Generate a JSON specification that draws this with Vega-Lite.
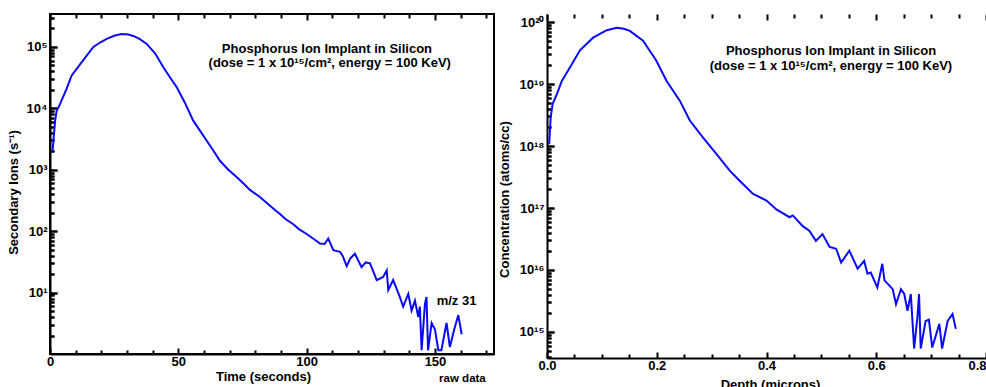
{
  "$schema": "https://vega.github.io/schema/vega-lite/v6.json",
  "autosize": {"type": "pad"},
  "padding": {"left": 6, "top": 10, "right": 0, "bottom": 0},
  "bounds": "flush",
  "spacing": 53,
  "datasets": {
    "time": [
      {"time": 1.0, "ions": 2000}, {"time": 2.0, "ions": 6300}, {"time": 2.6, "ions": 9100}, {"time": 3.9, "ions": 11700},
      {"time": 6.5, "ions": 21000}, {"time": 8.4, "ions": 34000}, {"time": 11.7, "ions": 52000}, {"time": 14.3, "ions": 72000},
      {"time": 16.9, "ions": 100000}, {"time": 19.5, "ions": 118000}, {"time": 22.1, "ions": 135000}, {"time": 25.0, "ions": 152000},
      {"time": 27.9, "ions": 162000}, {"time": 30.5, "ions": 159000}, {"time": 32.5, "ions": 151000}, {"time": 35.0, "ions": 134000},
      {"time": 37.7, "ions": 112000}, {"time": 41.0, "ions": 78000}, {"time": 44.1, "ions": 47000}, {"time": 47.0, "ions": 31000},
      {"time": 49.4, "ions": 22000}, {"time": 52.5, "ions": 12500}, {"time": 55.8, "ions": 6300}, {"time": 58.5, "ions": 4300},
      {"time": 61.0, "ions": 3000}, {"time": 63.5, "ions": 2100}, {"time": 66.2, "ions": 1400}, {"time": 69.5, "ions": 1000},
      {"time": 72.7, "ions": 760}, {"time": 75.5, "ions": 590}, {"time": 77.9, "ions": 470}, {"time": 81.8, "ions": 360},
      {"time": 85.5, "ions": 265}, {"time": 88.0, "ions": 215}, {"time": 89.6, "ions": 190}, {"time": 92.0, "ions": 155},
      {"time": 94.8, "ions": 130}, {"time": 97.0, "ions": 108}, {"time": 100.0, "ions": 90}, {"time": 102.5, "ions": 76},
      {"time": 105.2, "ions": 63}, {"time": 107.0, "ions": 62}, {"time": 108.4, "ions": 76}, {"time": 110.4, "ions": 49},
      {"time": 113.0, "ions": 46}, {"time": 114.0, "ions": 40}, {"time": 115.6, "ions": 27}, {"time": 117.0, "ions": 36},
      {"time": 118.8, "ions": 43}, {"time": 121.4, "ions": 26}, {"time": 123.0, "ions": 31}, {"time": 124.7, "ions": 30},
      {"time": 127.3, "ions": 16}, {"time": 129.8, "ions": 18}, {"time": 131.2, "ions": 23}, {"time": 131.8, "ions": 11},
      {"time": 133.7, "ions": 16}, {"time": 136.3, "ions": 8.5}, {"time": 137.6, "ions": 5.9}, {"time": 139.6, "ions": 9.5},
      {"time": 140.9, "ions": 5.1}, {"time": 142.2, "ions": 7.4}, {"time": 143.5, "ions": 4.0}, {"time": 144.1, "ions": 5.9},
      {"time": 144.8, "ions": 1.15}, {"time": 146.1, "ions": 6.6}, {"time": 146.7, "ions": 8.5}, {"time": 147.3, "ions": 1.15},
      {"time": 148.7, "ions": 3.2}, {"time": 150.0, "ions": 2.5}, {"time": 151.3, "ions": 1.15}, {"time": 152.5, "ions": 1.15},
      {"time": 154.5, "ions": 3.2}, {"time": 155.8, "ions": 1.3}, {"time": 157.5, "ions": 2.5}, {"time": 159.1, "ions": 4.3},
      {"time": 160.4, "ions": 2.1}
    ],
    "leftTitle": [
      {"time": 107.9, "ions": 93000, "label": "Phosphorus Ion Implant in Silicon"},
      {"time": 109.0, "ions": 55000, "label": "(dose = 1 x 10¹⁵/cm², energy = 100 KeV)"}
    ],
    "leftMz": [{"time": 158.4, "ions": 7.3, "label": "m/z 31"}],
    "leftRaw": [{"time": 160.7, "ions": 0.39, "label": "raw data"}],
    "depth": [
      {"depth": 0.004, "conc": 1.07e18}, {"depth": 0.0067, "conc": 2.9e18}, {"depth": 0.0103, "conc": 4.8e18}, {"depth": 0.018, "conc": 6.9e18},
      {"depth": 0.027, "conc": 1.12e19}, {"depth": 0.042, "conc": 1.86e19}, {"depth": 0.06, "conc": 3.5e19}, {"depth": 0.084, "conc": 5.6e19},
      {"depth": 0.109, "conc": 7.4e19}, {"depth": 0.127, "conc": 8.1e19}, {"depth": 0.14, "conc": 7.8e19}, {"depth": 0.151, "conc": 7.2e19},
      {"depth": 0.175, "conc": 5.0e19}, {"depth": 0.199, "conc": 2.4e19}, {"depth": 0.218, "conc": 1.12e19}, {"depth": 0.242, "conc": 5.4e18},
      {"depth": 0.26, "conc": 2.6e18}, {"depth": 0.284, "conc": 1.38e18}, {"depth": 0.309, "conc": 7.4e17}, {"depth": 0.333, "conc": 4.0e17},
      {"depth": 0.351, "conc": 2.75e17}, {"depth": 0.375, "conc": 1.7e17}, {"depth": 0.4, "conc": 1.32e17}, {"depth": 0.418, "conc": 9.5e16},
      {"depth": 0.442, "conc": 7.1e16}, {"depth": 0.448, "conc": 7.6e16}, {"depth": 0.466, "conc": 5.1e16}, {"depth": 0.478, "conc": 4.3e16},
      {"depth": 0.49, "conc": 2.95e16}, {"depth": 0.502, "conc": 3.8e16}, {"depth": 0.515, "conc": 2.35e16}, {"depth": 0.527, "conc": 2.2e16},
      {"depth": 0.536, "conc": 1.32e16}, {"depth": 0.551, "conc": 2.05e16}, {"depth": 0.566, "conc": 1.05e16}, {"depth": 0.578, "conc": 1.4e16},
      {"depth": 0.584, "conc": 8.7e15}, {"depth": 0.59, "conc": 9.1e15}, {"depth": 0.602, "conc": 5.2e15}, {"depth": 0.611, "conc": 1.26e16},
      {"depth": 0.615, "conc": 6.8e15}, {"depth": 0.63, "conc": 4.9e15}, {"depth": 0.636, "conc": 2.8e15}, {"depth": 0.645, "conc": 4.9e15},
      {"depth": 0.651, "conc": 4.1e15}, {"depth": 0.657, "conc": 2.2e15}, {"depth": 0.663, "conc": 4.1e15}, {"depth": 0.669, "conc": 5.4e14},
      {"depth": 0.675, "conc": 1.74e15}, {"depth": 0.678, "conc": 4.1e15}, {"depth": 0.681, "conc": 5.4e14}, {"depth": 0.69, "conc": 1.5e15},
      {"depth": 0.696, "conc": 1.58e15}, {"depth": 0.702, "conc": 5.6e14}, {"depth": 0.715, "conc": 1.35e15}, {"depth": 0.72, "conc": 5.4e14},
      {"depth": 0.73, "conc": 1.5e15}, {"depth": 0.739, "conc": 1.95e15}, {"depth": 0.745, "conc": 1.12e15}
    ],
    "rightTitle": [
      {"depth": 0.5175, "conc": 3.4e19, "label": "Phosphorus Ion Implant in Silicon"},
      {"depth": 0.5175, "conc": 1.95e19, "label": "(dose = 1 x 10¹⁵/cm², energy = 100 KeV)"}
    ]
  },
  "hconcat": [
    {
      "width": 444,
      "height": 340,
      "view": {"stroke": "black", "strokeWidth": 2},
      "encoding": {
        "x": {
          "field": "time", "type": "quantitative",
          "scale": {"domain": [0, 173], "nice": false, "zero": false},
          "axis": {
            "title": "Time (seconds)",
            "values": [0, 10, 20, 30, 40, 50, 60, 70, 80, 90, 100, 110, 120, 130, 140, 150, 160, 170],
            "labelExpr": "datum.value % 50 == 0 ? datum.label : ''",
            "ticks": true,
            "tickSize": {"condition": {"test": "datum.value % 50 == 0", "value": -6}, "value": -4},
            "labelPadding": 7,
            "grid": true,
            "gridDash": {"condition": {"test": "datum.value % 50 == 0", "value": [6, 2000]}, "value": [4, 2000]},
            "titleX": 213, "titleY": 22, "titleBaseline": "middle", "titleAlign": "center"
          }
        },
        "y": {
          "field": "ions", "type": "quantitative",
          "scale": {"type": "log", "domain": [1, 344000], "nice": false},
          "axis": {
            "title": "Secondary Ions (s⁻¹)",
            "values": [2, 3, 4, 5, 6, 7, 8, 9, 10, 20, 30, 40, 50, 60, 70, 80, 90, 100, 200, 300, 400, 500, 600, 700, 800, 900, 1000, 2000, 3000, 4000, 5000, 6000, 7000, 8000, 9000, 10000, 20000, 30000, 40000, 50000, 60000, 70000, 80000, 90000, 100000, 200000, 300000],
            "labelExpr": "datum.value >= 10 && abs(log(datum.value)/LN10 - round(log(datum.value)/LN10)) < 0.001 ? '10' + ['⁰','¹','²','³','⁴','⁵'][round(log(datum.value)/LN10)] : ''",
            "ticks": true,
            "tickSize": {"condition": {"test": "abs(log(datum.value)/LN10 - round(log(datum.value)/LN10)) < 0.001", "value": -7}, "value": -4},
            "labelPadding": 10,
            "grid": true,
            "gridDash": {"condition": {"test": "abs(log(datum.value)/LN10 - round(log(datum.value)/LN10)) < 0.001", "value": [7, 2000]}, "value": [4, 2000]},
            "titleX": -37, "titleY": 178, "titleBaseline": "middle", "titleAlign": "center"
          }
        }
      },
      "layer": [
        {
          "data": {"name": "time"},
          "mark": {"type": "line", "color": "#0a0af5", "strokeWidth": 2}
        },
        {
          "data": {"name": "leftTitle"},
          "mark": {"type": "text", "font": "Liberation Sans", "fontWeight": "bold", "fontSize": 13, "color": "black"},
          "encoding": {"text": {"field": "label"}}
        },
        {
          "data": {"name": "leftMz"},
          "mark": {"type": "text", "font": "Liberation Sans", "fontWeight": "bold", "fontSize": 13, "color": "black"},
          "encoding": {"text": {"field": "label"}}
        },
        {
          "data": {"name": "leftRaw"},
          "mark": {"type": "text", "font": "Liberation Sans", "fontWeight": "bold", "fontSize": 11.5, "color": "black"},
          "encoding": {"text": {"field": "label"}}
        }
      ]
    },
    {
      "width": 439,
      "height": 344,
      "view": {"stroke": null},
      "encoding": {
        "x": {
          "field": "depth", "type": "quantitative",
          "scale": {"domain": [0, 0.8], "nice": false, "zero": false},
          "axis": {
            "title": "Depth (microns)",
            "values": [0, 0.05, 0.1, 0.15, 0.2, 0.25, 0.3, 0.35, 0.4, 0.45, 0.5, 0.55, 0.6, 0.65, 0.7, 0.75, 0.8],
            "labelExpr": "abs(datum.value*5 - round(datum.value*5)) < 0.001 ? format(datum.value, '.1f') : ''",
            "labelAlign": {"condition": {"test": "datum.value > 0.79", "value": "right"}, "value": "center"},
            "ticks": true,
            "tickSize": {"condition": {"test": "abs(datum.value*5 - round(datum.value*5)) < 0.001", "value": -6}, "value": -4},
            "labelPadding": 7,
            "grid": true,
            "gridDash": {"condition": {"test": "abs(datum.value*5 - round(datum.value*5)) < 0.001", "value": [6, 2000]}, "value": [4, 2000]},
            "titleX": 223, "titleY": 26, "titleBaseline": "middle", "titleAlign": "center"
          }
        },
        "y": {
          "field": "conc", "type": "quantitative",
          "scale": {"type": "log", "domain": [3.8e14, 1.35e20], "nice": false},
          "axis": {
            "title": "Concentration (atoms/cc)",
            "values": [4e14, 5e14, 6e14, 7e14, 8e14, 9e14, 1e15, 2e15, 3e15, 4e15, 5e15, 6e15, 7e15, 8e15, 9e15, 1e16, 2e16, 3e16, 4e16, 5e16, 6e16, 7e16, 8e16, 9e16, 1e17, 2e17, 3e17, 4e17, 5e17, 6e17, 7e17, 8e17, 9e17, 1e18, 2e18, 3e18, 4e18, 5e18, 6e18, 7e18, 8e18, 9e18, 1e19, 2e19, 3e19, 4e19, 5e19, 6e19, 7e19, 8e19, 9e19, 1e20],
            "labelExpr": "abs(log(datum.value)/LN10 - round(log(datum.value)/LN10)) < 0.001 ? '10' + ['¹⁵','¹⁶','¹⁷','¹⁸','¹⁹','²⁰'][round(log(datum.value)/LN10) - 15] : ''",
            "ticks": true,
            "tickSize": {"condition": {"test": "abs(log(datum.value)/LN10 - round(log(datum.value)/LN10)) < 0.001", "value": -7}, "value": -4},
            "labelPadding": 10,
            "grid": true,
            "gridDash": {"condition": {"test": "abs(log(datum.value)/LN10 - round(log(datum.value)/LN10)) < 0.001", "value": [7, 2000]}, "value": [4, 2000]},
            "titleX": -43, "titleY": 185, "titleBaseline": "middle", "titleAlign": "center"
          }
        }
      },
      "layer": [
        {
          "data": {"name": "depth"},
          "mark": {"type": "line", "color": "#0a0af5", "strokeWidth": 2}
        },
        {
          "data": {"name": "rightTitle"},
          "mark": {"type": "text", "font": "Liberation Sans", "fontWeight": "bold", "fontSize": 13, "color": "black"},
          "encoding": {"text": {"field": "label"}}
        }
      ]
    }
  ],
  "config": {
    "view": {"stroke": null},
    "font": "Liberation Sans",
    "axis": {
      "domainColor": "black", "domainWidth": 2,
      "tickColor": "black", "tickWidth": 2, "tickOpacity": 1,
      "gridColor": "black", "gridWidth": 2, "gridOpacity": 1,
      "labelColor": "black", "labelFont": "Liberation Sans", "labelFontWeight": "bold", "labelFontSize": 13,
      "labelOverlap": false, "labelFlush": false, "labelBound": false,
      "titleColor": "black", "titleFont": "Liberation Sans", "titleFontWeight": "bold", "titleFontSize": 13
    }
  }
}
